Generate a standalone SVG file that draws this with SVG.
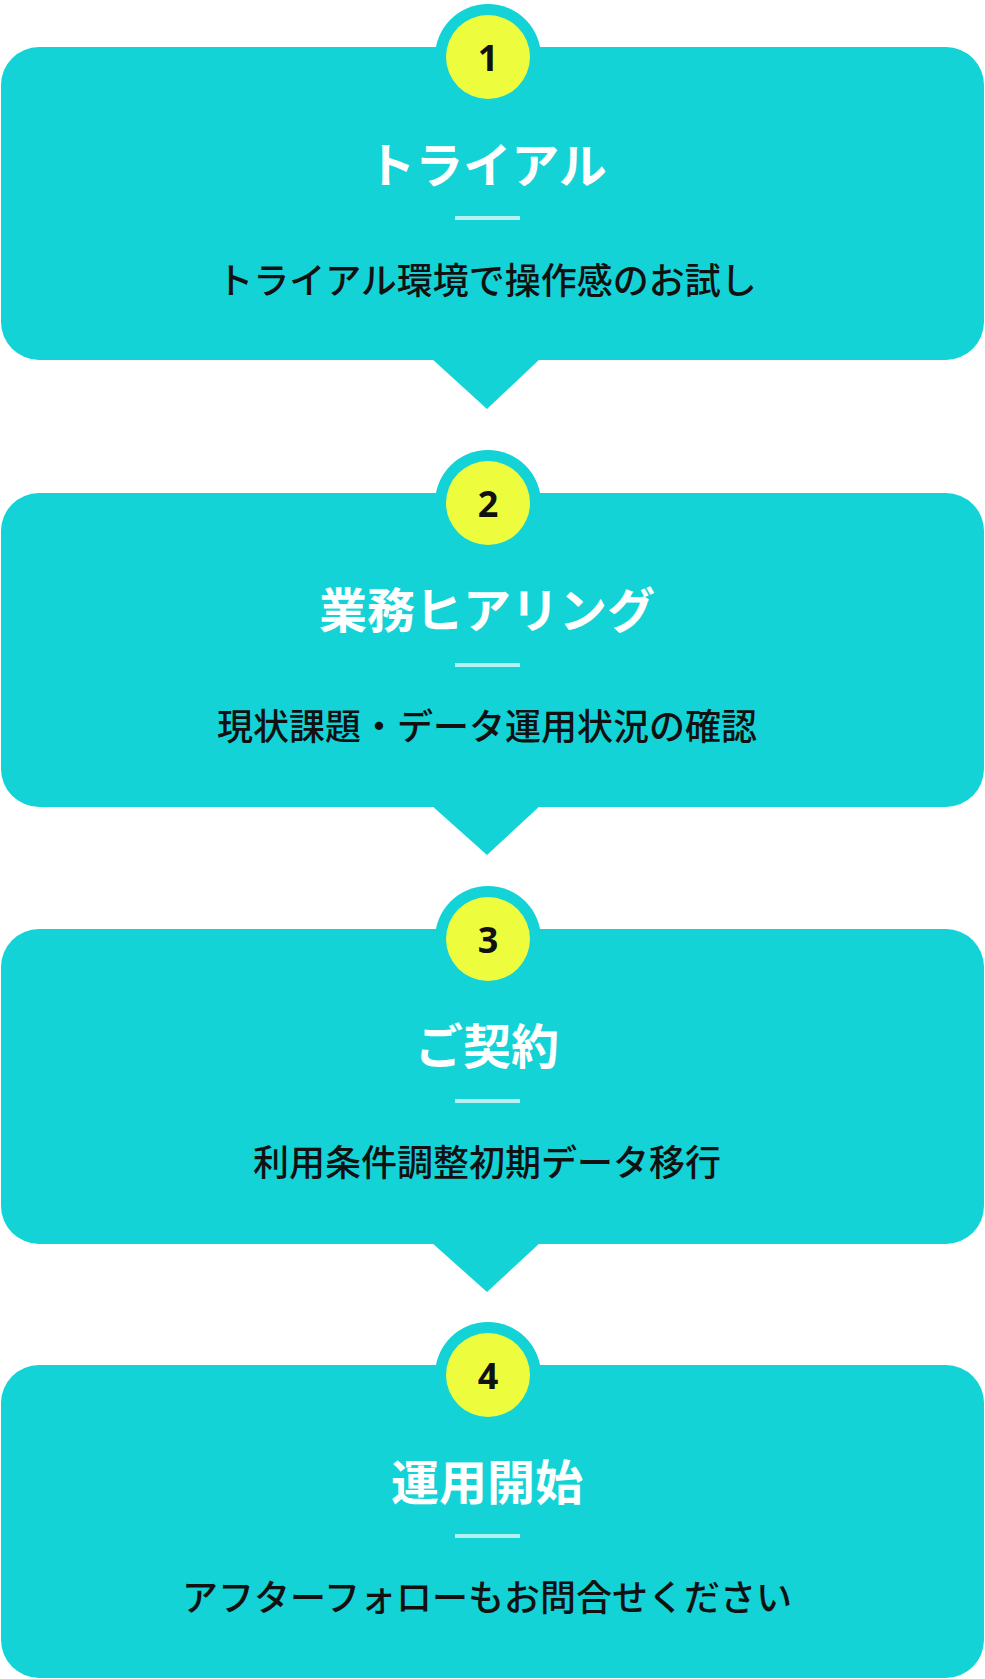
<svg xmlns="http://www.w3.org/2000/svg" width="985" height="1679" viewBox="0 0 985 1679">
<style>
.box{fill:#14d3d6}
.ring{fill:#14d3d6}
.badge{fill:#eefc3e}
.num{font-family:"Noto Sans","Liberation Sans",sans-serif;font-weight:bold;font-size:36px;fill:#111;text-anchor:middle;dominant-baseline:central}
.title{font-family:"Noto Sans CJK JP",sans-serif;font-weight:bold;font-size:48px;fill:#fff;text-anchor:middle;dominant-baseline:central}
.sub{font-family:"Noto Sans CJK JP",sans-serif;font-weight:500;font-size:36px;fill:#111;text-anchor:middle;dominant-baseline:central}
.div{fill:#b8f0f2}
</style>
<rect width="985" height="1679" fill="#fff"/>
<g id="connectors">
<polygon class="box" points="431,358 541,358 487,409"/>
<polygon class="box" points="431,805 541,805 487,855"/>
<polygon class="box" points="431,1242 541,1242 487,1292"/>
</g>
<g id="step1">
<circle class="ring" cx="488" cy="57" r="53"/>
<rect class="box" x="1" y="47" width="983" height="313" rx="38"/>
<circle class="badge" cx="488" cy="57" r="42"/>
<text class="num" x="488" y="57">1</text>
<text class="title" x="487" y="162">トライアル</text>
<rect class="div" x="455" y="216" width="65" height="4"/>
<text class="sub" x="487" y="278">トライアル環境で操作感のお試し</text>
</g>
<g id="step2">
<circle class="ring" cx="488" cy="503" r="53"/>
<rect class="box" x="1" y="493" width="983" height="314" rx="38"/>
<circle class="badge" cx="488" cy="503" r="42"/>
<text class="num" x="488" y="503">2</text>
<text class="title" x="487" y="607">業務ヒアリング</text>
<rect class="div" x="455" y="663" width="65" height="4"/>
<text class="sub" x="487" y="724">現状課題・データ運用状況の確認</text>
</g>
<g id="step3">
<circle class="ring" cx="488" cy="939" r="53"/>
<rect class="box" x="1" y="929" width="983" height="315" rx="38"/>
<circle class="badge" cx="488" cy="939" r="42"/>
<text class="num" x="488" y="939">3</text>
<text class="title" x="487" y="1043">ご契約</text>
<rect class="div" x="455" y="1099" width="65" height="4"/>
<text class="sub" x="487" y="1160">利用条件調整初期データ移行</text>
</g>
<g id="step4">
<circle class="ring" cx="488" cy="1375" r="53"/>
<rect class="box" x="1" y="1365" width="983" height="313" rx="38"/>
<circle class="badge" cx="488" cy="1375" r="42"/>
<text class="num" x="488" y="1375">4</text>
<text class="title" x="487" y="1479">運用開始</text>
<rect class="div" x="455" y="1534" width="65" height="4"/>
<text class="sub" x="487" y="1595">アフターフォローもお問合せください</text>
</g>
</svg>
